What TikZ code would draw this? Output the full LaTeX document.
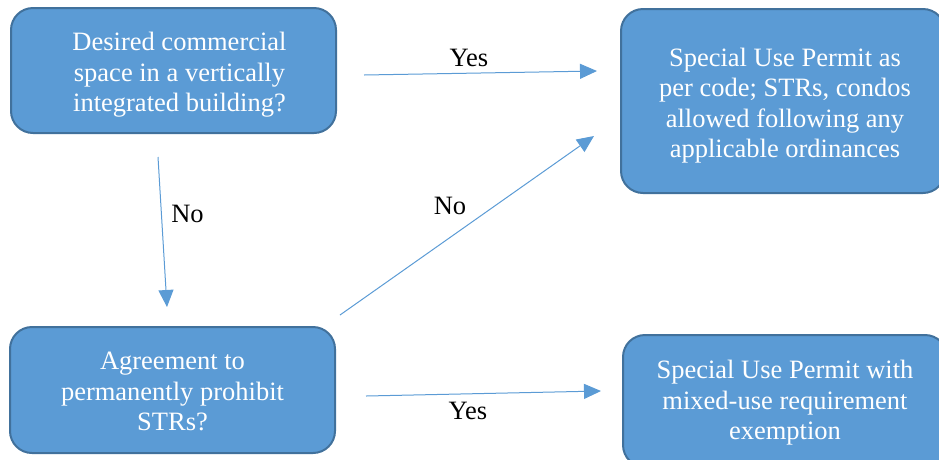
\documentclass[tikz,border=0pt]{standalone}
\usepackage{fontspec}
\setmainfont{Liberation Serif}
\usetikzlibrary{arrows.meta}
\definecolor{boxblue}{HTML}{5B9BD5}
\definecolor{boxedge}{HTML}{41719C}

\begin{document}
\begin{tikzpicture}[x=1pt,y=-1pt]
              \tikzstyle{every node}+=[font=\fontsize{26.5}{30.5}\selectfont]
              \tikzstyle{stepbox}=[draw=boxedge, line width=2pt, fill=boxblue, rounded corners=22pt, inner sep=0pt]
              \tikzstyle{boxtext}=[text=white, align=center, inner sep=0pt]
              \tikzstyle{flow}=[draw=boxblue, line width=1pt, -{Triangle[length=17pt,width=15pt]}]
              \useasboundingbox (0,0) rectangle (939,459);
              \clip (0,0) rectangle (939,459);
              % boxes
              \node [stepbox, minimum width=325pt, minimum height=125pt,
                label={[boxtext, xshift=6pt, yshift=-4.5pt]center:Desired commercial\\space in a vertically\\integrated building?}] (desired) at (173.5,70.5) {};
              \node [stepbox, minimum width=324pt, minimum height=184pt,
                label={[boxtext, xshift=2pt, yshift=-4.5pt]center:Special Use Permit as\\per code; STRs, condos\\allowed following any\\applicable ordinances}] (permit) at (783,101) {};
              \node [stepbox, minimum width=325pt, minimum height=126pt,
                label={[boxtext, yshift=-1.5pt]center:Agreement to\\permanently prohibit\\STRs?}] (agree) at (172.5,390) {};
              \node [stepbox, minimum width=324pt, minimum height=132pt,
                label={[boxtext, yshift=-2pt]center:Special Use Permit with\\mixed-use requirement\\exemption}] (exempt) at (785,401) {};
              % arrow ends
              \coordinate (yesA) at (364,75);
              \coordinate (yesB) at (597,71);
              \coordinate (noA) at (158,157);
              \coordinate (noB) at (167,307);
              \coordinate (noC) at (340,315);
              \coordinate (noD) at (594,136);
              \coordinate (yesC) at (366,396);
              \coordinate (yesD) at (601,391);
              \draw [flow] (yesA) -- (yesB);
              \draw [flow] (noA) -- (noB);
              \draw [flow] (noC) -- (noD);
              \draw [flow] (yesC) -- (yesD);
              % labels
              \node (yesTop) at (469,57.5) {Yes};
              \node (noLeft) at (187.5,214) {No};
              \node (noMid) at (450,206) {No};
              \node (yesBot) at (468,411) {Yes};
            \end{tikzpicture}
\end{document}
